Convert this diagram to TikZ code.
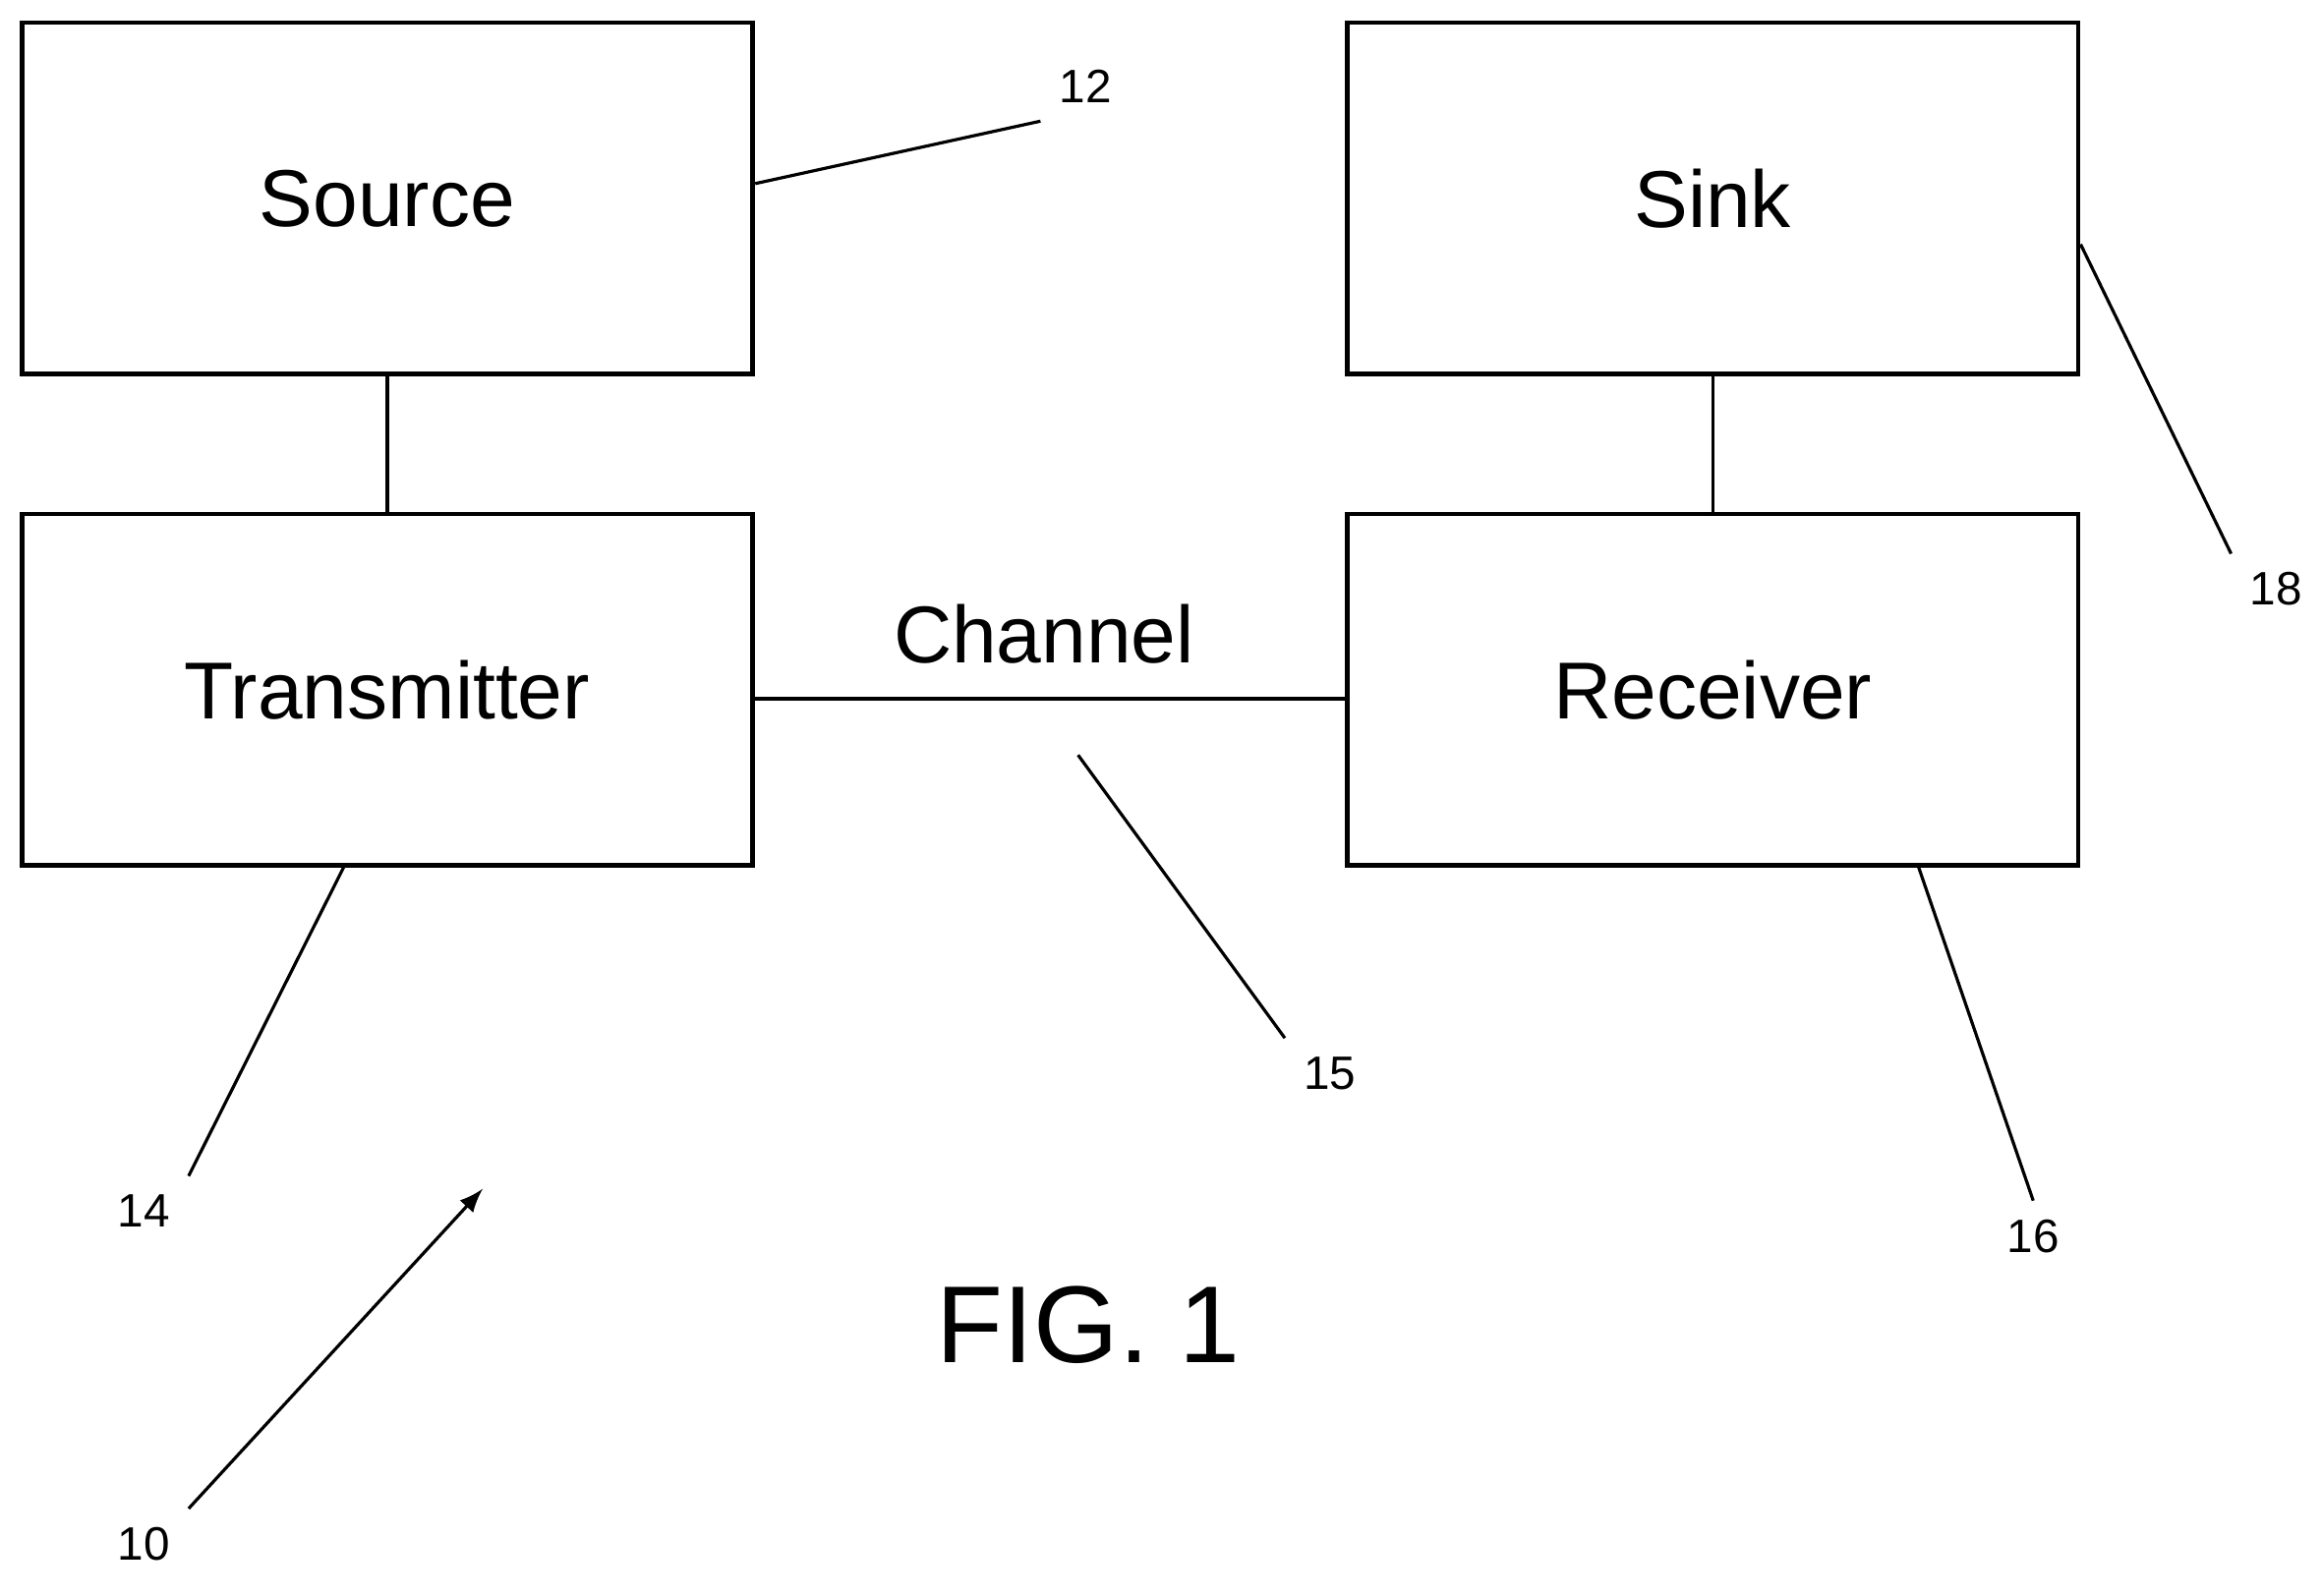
\documentclass[tikz,border=0pt]{standalone}
\usepackage{fontspec}
\setmainfont{Liberation Sans}
\usetikzlibrary{positioning}
\tikzset{block/.style = {draw, thick, minimum width=4.93cm, minimum height=2.37cm, font=\fontsize{15.5}{18}\selectfont}}
\tikzset{num/.style = {font=\fontsize{9}{11}\selectfont}}
\tikzset{lead/.style = {semithick}}

\begin{document}
\begin{tikzpicture}[x=0.01cm, y=-0.01cm, >=latex, semithick]
  \useasboundingbox (0,0) rectangle (1568,1078);
  \node [block] (src) at (261.5,134) {Source};
  \node [block, below=0.92cm of src] (tx) {Transmitter};
  \node [block] (sink) at (1156.5,134) {Sink};
  \node [block, below=0.92cm of sink] (rx) {Receiver};

  \draw (src) -- (tx);
  \draw (sink) -- (rx);
  \draw (tx.east |- 0,472) -- (rx.west |- 0,472);
  \node [block, draw=none, minimum width=0, minimum height=0] (ch) at (705,428) {Channel};

  % reference numerals
  \node [num] (n12) at (733,58) {12};
  \node [num] (n18) at (1537,398) {18};
  \node [num] (n14) at (97,818) {14};
  \node [num] (n15) at (898,725) {15};
  \node [num] (n16) at (1373,835) {16};
  \node [num] (n10) at (97,1043) {10};
  \node [font=\fontsize{21}{25}\selectfont] (fig) at (735,895) {FIG. 1};

  \coordinate (a12) at (510,124);
  \coordinate (a18) at (1405,165);
  \coordinate (a14) at (233,584);
  \coordinate (a15) at (728,510);
  \coordinate (a16) at (1295,584);
  \coordinate (a10) at (326,803);

  \draw [lead] (a12) -- (n12.south west);
  \draw [lead] (a18) -- (n18.north west);
  \draw [lead] (a14) -- (n14.north east);
  \draw [lead] (a15) -- (n15.north west);
  \draw [lead] (a16) -- (n16.north);
  \draw [lead, ->] (n10.north east) -- (a10);
\end{tikzpicture}
\end{document}
